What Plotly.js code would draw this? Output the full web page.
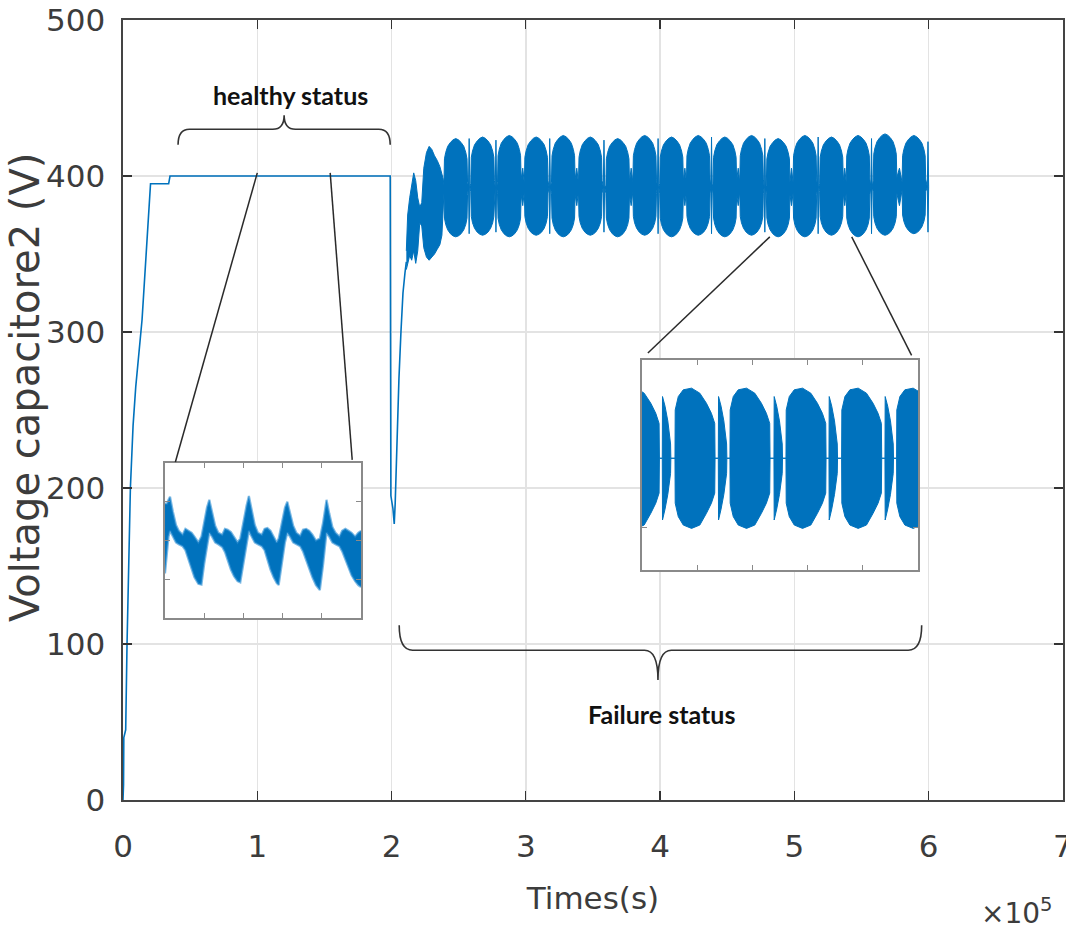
<!DOCTYPE html>
<html><head><meta charset="utf-8">
<script src="https://cdn.plot.ly/plotly-3.0.1.min.js"></script>
<style>html,body{margin:0;padding:0;background:#fff;}#chart{width:1066px;height:929px;}</style>
</head><body><div id="chart"></div>
<script>
// ---------- axis ticks ----------
const xTickVals = [0, 1, 2, 3, 4, 5, 6, 7];
const yTickVals = [0, 100, 200, 300, 400, 500];

// ---------- main trace: start-up, healthy plateau, dip (x in units of 1e5 s) ----------
const healthyX = [0, 0.004, 0.006, 0.02, 0.03, 0.04, 0.055, 0.075, 0.095, 0.142, 0.18, 0.2, 0.205, 0.34, 0.35, 1.99, 1.995, 2.01, 2.02, 2.027, 2.035, 2.045, 2.055, 2.07, 2.085, 2.1, 2.11];
const healthyY = [0, 10, 40, 45, 100, 150, 200, 240, 265, 308, 363, 388, 395, 395, 400, 400, 195, 187, 177, 190, 215, 245, 270, 300, 325, 338, 345];

// ---------- failure: early growth envelope ----------
const earlyX  = [2.11, 2.12, 2.135, 2.15, 2.165, 2.18, 2.195, 2.21, 2.225, 2.24, 2.26, 2.28, 2.30, 2.32, 2.34, 2.36, 2.375, 2.385];
const earlyUp = [352, 375, 386, 395, 402, 397, 386, 380, 383, 405, 415, 419, 417, 413, 410, 406, 402, 398];
const earlyLo = [340, 343, 349, 346, 352, 344, 352, 370, 368, 354, 348, 346, 348, 350, 353, 356, 362, 380];

// ---------- failure: oscillation bursts ----------
const burstCenters = [2.478, 2.678, 2.877, 3.077, 3.279, 3.480, 3.684, 3.885, 4.085, 4.284, 4.482, 4.681, 4.879, 5.078, 5.276, 5.474, 5.675, 5.890];
const burstTops    = [424, 425, 426, 425, 426, 425, 424, 426, 425, 426, 425, 426, 424, 426, 425, 426, 427, 426];
const burstBots    = [361, 362, 361, 362, 361, 362, 361, 362, 361, 362, 361, 362, 361, 361, 362, 361, 362, 363];
const burstOffsets = [-0.088, -0.084, -0.075, -0.06, -0.04, -0.02, 0, 0.02, 0.04, 0.06, 0.075, 0.084, 0.088];
const burstUpDrop  = [30, 13, 9, 5, 2.5, 0.8, 0, 0.8, 2.5, 5, 9, 13, 28];
const burstLoRise  = [28, 12, 8, 4.5, 2, 0.6, 0, 0.6, 2, 4.5, 8, 12, 27];
const gapSpike = [1, 1, 0, 1, 0, 1, 0, 1, 0, 1, 0, 1, 0, 1, 0, 1, 0];
const gapTop   = [424, 423, 0, 424, 0, 423, 0, 424, 0, 425, 0, 424, 0, 425, 0, 424, 0];
const gapBot   = [363, 364, 0, 363, 0, 364, 0, 363, 0, 363, 0, 364, 0, 363, 0, 363, 0];
const midLevel = 393;
const notchUp = 405, notchLo = 381;
const endX  = [5.99, 5.995, 6.0];
const endUp = [393, 422, 393];
const endLo = [393, 364, 393];

// ---------- left inset (healthy zoom) ----------
const insLX  = [0.00, 0.05, 0.09, 0.128, 0.20, 0.28, 0.35, 0.45, 0.52, 0.60, 0.68, 0.75, 0.85, 0.93, 1.00, 1.07, 1.13, 1.20, 1.28, 1.36, 1.46, 1.53, 1.60, 1.68, 1.76, 1.85, 1.92, 2.00, 2.08, 2.14, 2.21, 2.29, 2.37, 2.47, 2.54, 2.61, 2.69, 2.77, 2.85, 2.90, 2.98, 3.06, 3.12, 3.19, 3.27, 3.35, 3.45, 3.52, 3.60, 3.68, 3.76, 3.85, 3.95, 4.03, 4.08, 4.12, 4.19, 4.27, 4.35, 4.45, 4.52, 4.60, 4.68, 4.76, 4.85, 4.93, 5.00];
const insLUp = [2.95, 2.95, 3.05, 3.13, 2.75, 2.40, 2.25, 2.15, 2.30, 2.25, 2.20, 2.10, 1.95, 2.10, 2.50, 2.85, 3.05, 2.70, 2.38, 2.20, 2.15, 2.30, 2.28, 2.22, 2.10, 1.95, 2.05, 2.50, 2.90, 3.15, 2.75, 2.40, 2.20, 2.15, 2.30, 2.32, 2.25, 2.10, 1.95, 2.05, 2.45, 2.85, 3.00, 2.70, 2.38, 2.20, 2.12, 2.28, 2.30, 2.25, 2.15, 2.00, 2.05, 2.45, 2.80, 3.05, 2.70, 2.35, 2.20, 2.10, 2.25, 2.30, 2.25, 2.20, 2.10, 2.20, 2.25];
const insLLo = [1.15, 1.70, 2.10, 2.25, 2.10, 1.95, 1.90, 1.85, 1.75, 1.50, 1.25, 1.05, 0.88, 0.86, 1.40, 1.90, 2.20, 2.10, 1.95, 1.90, 1.83, 1.70, 1.50, 1.25, 1.08, 0.95, 0.92, 1.45, 1.95, 2.25, 2.10, 1.95, 1.90, 1.85, 1.75, 1.50, 1.25, 1.05, 0.90, 0.85, 1.40, 1.95, 2.20, 2.10, 1.95, 1.90, 1.85, 1.72, 1.50, 1.25, 1.05, 0.85, 0.72, 1.35, 1.90, 2.20, 2.10, 1.95, 1.90, 1.85, 1.72, 1.50, 1.30, 1.10, 0.95, 0.85, 0.80];

// ---------- right inset (failure zoom) ----------
const insRMid = 2.66;
const insRBurstStarts  = [-0.41, 0.598, 1.594, 2.609, 3.617, 4.613];
const insRBurstOff = [0, 0.004, 0.06, 0.15, 0.3, 0.45, 0.57, 0.66, 0.72, 0.726];
const insRBurstUp  = [2.66, 3.81, 4.13, 4.29, 4.33, 4.21, 3.97, 3.73, 3.49, 2.66];
const insRBurstLo  = [2.66, 1.59, 1.27, 1.07, 0.99, 1.07, 1.35, 1.59, 1.83, 2.66];
const insRSliverStarts = [0.368, 1.383, 2.391, 3.388, 4.402];
const insRSliverOff = [0, 0.004, 0.05, 0.10, 0.15, 0.155];
const insRSliverUp  = [2.66, 4.13, 3.90, 3.55, 3.00, 2.66];
const insRSliverLo  = [2.66, 1.19, 1.45, 1.80, 2.30, 2.66];

// ---------- build failure envelope ----------
const fx = earlyX.slice(), fu = earlyUp.slice(), fl = earlyLo.slice();
burstCenters.forEach((c, i) => {
  burstOffsets.forEach((o, j) => {
    fx.push(c + o); fu.push(burstTops[i] - burstUpDrop[j]); fl.push(burstBots[i] + burstLoRise[j]);
  });
  if (i < burstCenters.length - 1) {
    const g = (c + burstCenters[i + 1]) / 2;
    if (gapSpike[i]) {
      fx.push(g - 0.005, g, g + 0.005);
      fu.push(midLevel, gapTop[i], midLevel);
      fl.push(midLevel, gapBot[i], midLevel);
    } else {
      fx.push(g); fu.push(notchUp); fl.push(notchLo);
    }
  }
});
endX.forEach((x, i) => { fx.push(x); fu.push(endUp[i]); fl.push(endLo[i]); });

// ---------- build right inset envelope ----------
const rItems = [];
insRBurstStarts.forEach(s => insRBurstOff.forEach((o, j) => rItems.push([s + o, insRBurstUp[j], insRBurstLo[j]])));
insRSliverStarts.forEach(s => insRSliverOff.forEach((o, j) => rItems.push([s + o, insRSliverUp[j], insRSliverLo[j]])));
rItems.sort((a, b) => a[0] - b[0]);
const rx = rItems.map(p => p[0]), ru = rItems.map(p => p[1]), rl = rItems.map(p => p[2]);

const blue = '#0072BD';
const txt = '#3c3c3c';
const axFont = 'DejaVu Sans, Liberation Sans, Arial, sans-serif';

const traces = [
  {x: healthyX, y: healthyY, mode: 'lines', line: {color: blue, width: 1.6}, hoverinfo: 'skip'},
  {x: fx, y: fl, mode: 'lines', line: {color: blue, width: 1}, hoverinfo: 'skip'},
  {x: fx, y: fu, mode: 'lines', line: {color: blue, width: 1}, fill: 'tonexty', fillcolor: blue, hoverinfo: 'skip'},
  {x: insLX, y: insLLo, xaxis: 'x2', yaxis: 'y2', mode: 'lines', line: {color: 'rgba(40,140,210,0.6)', width: 2.2}, hoverinfo: 'skip'},
  {x: insLX, y: insLUp, xaxis: 'x2', yaxis: 'y2', mode: 'lines', line: {color: 'rgba(40,140,210,0.6)', width: 2.2}, fill: 'tonexty', fillcolor: blue, hoverinfo: 'skip'},
  {x: rx, y: rl, xaxis: 'x3', yaxis: 'y3', mode: 'lines', line: {color: blue, width: 1}, hoverinfo: 'skip'},
  {x: rx, y: ru, xaxis: 'x3', yaxis: 'y3', mode: 'lines', line: {color: blue, width: 1}, fill: 'tonexty', fillcolor: blue, hoverinfo: 'skip'}
];

const insetAxis = {
  ticks: 'inside', ticklen: 5, tickcolor: '#8a8a8a', tickwidth: 1,
  showticklabels: false, showline: true, mirror: 'ticks', linecolor: '#8a8a8a', linewidth: 2,
  showgrid: false, zeroline: false, fixedrange: true
};

function brace(x0, x1, xm, yEnd, yBar, yTip, dx) {
  return `M ${x0},${yEnd} Q ${x0},${yBar} ${x0 + dx},${yBar} L ${xm - dx},${yBar} Q ${xm},${yBar} ${xm},${yTip} ` +
         `Q ${xm},${yBar} ${xm + dx},${yBar} L ${x1 - dx},${yBar} Q ${x1},${yBar} ${x1},${yEnd}`;
}

const layout = {
  width: 1066, height: 929,
  margin: {l: 123, r: 3, t: 20, b: 129},
  paper_bgcolor: '#fff', plot_bgcolor: '#fff',
  showlegend: false, hovermode: false,
  font: {family: axFont, color: txt},
  xaxis: {
    range: [0, 7.0005], tickvals: xTickVals, ticktext: xTickVals.map(String),
    ticks: 'inside', ticklen: 9, tickwidth: 1.3, tickcolor: '#333',
    showline: true, linecolor: '#444', linewidth: 1.6, mirror: 'ticks',
    showgrid: true, gridcolor: '#e3e3e3', gridwidth: 1.5, zeroline: false,
    tickfont: {family: axFont, size: 31, color: txt}, ticklabelstandoff: 18, ticklabeloverflow: 'allow',
    title: {text: 'Times(s)', font: {family: axFont, size: 31, color: txt}, standoff: 24},
    automargin: false, fixedrange: true
  },
  yaxis: {
    range: [0, 500], tickvals: yTickVals, ticktext: yTickVals.map(String),
    ticks: 'inside', ticklen: 9, tickwidth: 1.3, tickcolor: '#333',
    showline: true, linecolor: '#444', linewidth: 1.6, mirror: 'ticks',
    showgrid: true, gridcolor: '#e3e3e3', gridwidth: 1.5, zeroline: false,
    tickfont: {family: axFont, size: 31, color: txt}, ticklabelstandoff: 10,
    automargin: false, fixedrange: true
  },
  xaxis2: Object.assign({domain: [0.0447, 0.2532], anchor: 'y2', range: [0, 5], tickvals: [1, 2, 3, 4]}, insetAxis),
  yaxis2: Object.assign({domain: [0.2333, 0.4321], anchor: 'x2', range: [0, 4], tickvals: [1, 2, 3]}, insetAxis),
  xaxis3: Object.assign({domain: [0.5521, 0.8457], anchor: 'y3', range: [0, 5], tickvals: [1, 2, 3, 4]}, insetAxis),
  yaxis3: Object.assign({domain: [0.2949, 0.5641], anchor: 'x3', range: [0, 5], tickvals: [1]}, insetAxis),
  shapes: [
    {type: 'rect', xref: 'x2', yref: 'y2', x0: 0, x1: 5, y0: 0, y1: 4, fillcolor: '#fff', line: {width: 0}, layer: 'below'},
    {type: 'rect', xref: 'x3', yref: 'y3', x0: 0, x1: 5, y0: 0, y1: 5, fillcolor: '#fff', line: {width: 0}, layer: 'below'},
    {type: 'line', xref: 'x', yref: 'y', x0: 1.0, y0: 402, x1: 0.39, y1: 216.7, line: {color: '#2a2a2a', width: 1.5}, layer: 'above'},
    {type: 'line', xref: 'x', yref: 'y', x0: 1.543, y0: 402, x1: 1.707, y1: 218, line: {color: '#2a2a2a', width: 1.5}, layer: 'above'},
    {type: 'line', xref: 'x', yref: 'y', x0: 4.817, y0: 361, x1: 3.909, y1: 286.5, line: {color: '#2a2a2a', width: 1.5}, layer: 'above'},
    {type: 'line', xref: 'x', yref: 'y', x0: 5.427, y0: 361, x1: 5.873, y1: 285, line: {color: '#2a2a2a', width: 1.5}, layer: 'above'},
    {type: 'path', xref: 'x', yref: 'y', path: brace(0.41, 1.99, 1.2, 420, 430, 439, 0.085), line: {color: '#333', width: 1.6}, layer: 'above'},
    {type: 'path', xref: 'x', yref: 'y', path: brace(2.057, 5.948, 3.984, 112, 96, 77, 0.1), line: {color: '#333', width: 1.6}, layer: 'above'}
  ],
  annotations: [
    {xref: 'x', yref: 'y', x: 1.248, y: 452, text: '<b>healthy status</b>', showarrow: false,
     font: {family: 'Lato, Open Sans, sans-serif', size: 25, color: '#111'}},
    {xref: 'x', yref: 'y', x: 4.014, y: 55, text: '<b>Failure status</b>', showarrow: false,
     font: {family: 'Lato, Open Sans, sans-serif', size: 25, color: '#111'}},
    {xref: 'paper', yref: 'paper', x: -0.1043, y: 0.5295, text: 'Voltage capacitore2 (V)', textangle: -90,
     showarrow: false, xanchor: 'center', yanchor: 'middle', font: {family: axFont, size: 40, color: txt}},
    {xref: 'paper', yref: 'paper', x: 0.992, y: -0.143, xanchor: 'right', yanchor: 'middle',
     text: '×10<sup>5</sup>', showarrow: false, font: {family: axFont, size: 28, color: txt}}
  ]
};

Plotly.newPlot('chart', traces, layout, {staticPlot: true, displayModeBar: false});
</script>
</body></html>
